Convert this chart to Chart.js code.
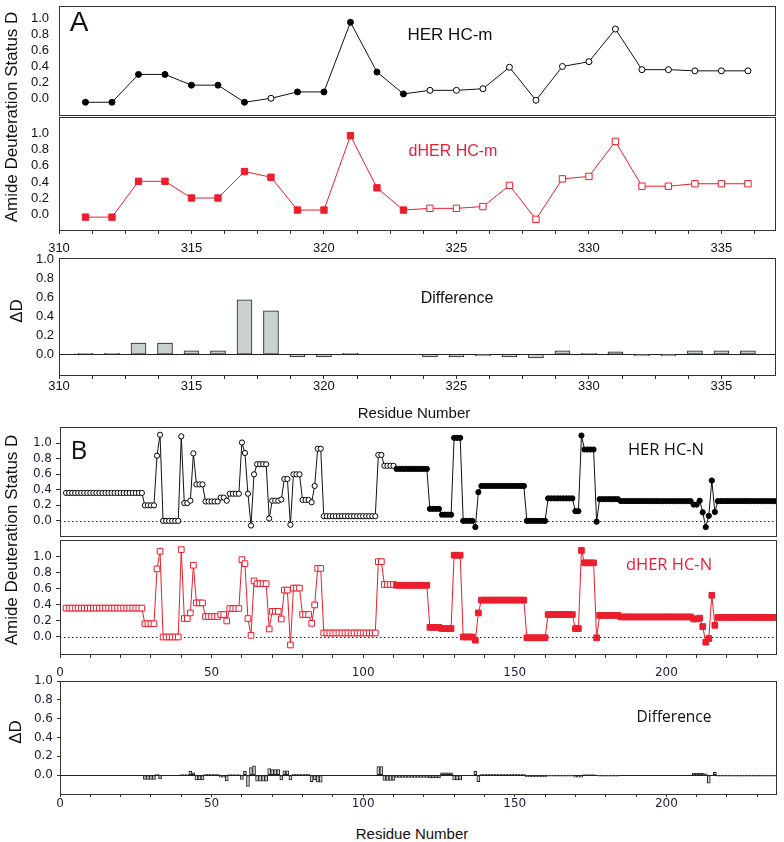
<!DOCTYPE html>
<html>
<head>
<meta charset="utf-8">
<script src="https://cdn.jsdelivr.net/npm/chart.js@4.4.1/dist/chart.umd.min.js"></script>
<style>
body{margin:0;background:#fff;width:784px;height:842px;position:relative;overflow:hidden;font-family:"Liberation Sans",Arial,sans-serif;color:#111}
canvas{position:absolute;left:0}
.t{position:absolute;white-space:nowrap;transform:translate(-50%,-50%);line-height:1}
.v{transform:translate(-50%,-50%) rotate(-90deg)}
.os{font-family:"Open Sans",sans-serif}
.red{color:#e8203a}
</style>
</head>
<body>
<canvas id="a1" width="784" height="120" style="top:0px"></canvas>
<canvas id="a2" width="784" height="152" style="top:110px"></canvas>
<canvas id="a3" width="784" height="150" style="top:250px"></canvas>
<canvas id="b1" width="784" height="121" style="top:420px"></canvas>
<canvas id="b2" width="784" height="157" style="top:533px"></canvas>
<canvas id="b3" width="784" height="148" style="top:672px"></canvas>

<div class="t" style="left:79px;top:22px;font-size:28px">A</div>
<div class="t" style="left:450px;top:34px;font-size:17px">HER HC-m</div>
<div class="t red" style="left:453px;top:151px;font-size:16px">dHER HC-m</div>
<div class="t" style="left:457px;top:298px;font-size:16px">Difference</div>
<div class="t" style="left:414px;top:412px;font-size:15px">Residue Number</div>
<div class="t v" style="left:11px;top:117px;font-size:17px">Amide Deuteration Status D</div>
<div class="t v" style="left:16px;top:311px;font-size:17px">ΔD</div>

<div class="t os" style="left:79px;top:449px;font-size:26px">B</div>
<div class="t os" style="left:666px;top:449px;font-size:16.5px">HER HC-N</div>
<div class="t os red" style="left:669px;top:564px;font-size:16.5px">dHER HC-N</div>
<div class="t os" style="left:674px;top:717px;font-size:15.5px">Difference</div>
<div class="t" style="left:412px;top:833px;font-size:15px">Residue Number</div>
<div class="t v" style="left:11px;top:540px;font-size:17px">Amide Deuteration Status D</div>
<div class="t v" style="left:15px;top:732px;font-size:17px">ΔD</div>

<script>
// panel A: residues 311-336
const aResidues = [311,312,313,314,315,316,317,318,319,320,321,322,323,324,325,326,327,328,329,330,331,332,333,334,335,336];
const aHER = [-0.05,-0.05,0.30,0.30,0.165,0.165,-0.05,0.0,0.08,0.08,0.955,0.33,0.055,0.10,0.10,0.12,0.39,-0.025,0.40,0.46,0.87,0.36,0.36,0.345,0.345,0.345];
const aDHER = [-0.03,-0.03,0.41,0.41,0.205,0.205,0.53,0.46,0.057,0.057,0.97,0.33,0.057,0.078,0.078,0.10,0.36,-0.057,0.44,0.47,0.90,0.35,0.35,0.38,0.38,0.38];
const aDiff = [0.01,0.01,0.117,0.117,0.035,0.035,0.576,0.46,-0.028,-0.028,0.01,null,null,-0.028,-0.028,-0.018,-0.028,-0.04,0.035,0.01,0.025,-0.018,-0.018,0.035,0.035,0.035];
const aYTicks = [0, 0.2, 0.4, 0.6, 0.8, 1.0];
const aXTicks = [310,311.25,312.5,313.75,315,316.25,317.5,318.75,320,321.25,322.5,323.75,325,326.25,327.5,328.75,330,331.25,332.5,333.75,335,336.25];
const aXLabels = [310,315,320,325,330,335];

// panel B: residues 2-236
const bFirstResidue = 2;
const bHER = [
  0.36,0.36,0.36,0.36,0.36,0.36,0.36,0.36,0.36,0.36,0.36,0.36,0.36,
  0.36,0.36,0.36,0.36,0.36,0.36,0.36,0.36,0.36,0.36,0.36,0.36,0.36,
  0.20,0.20,0.20,0.20,0.84,1.11,0.00,0.00,0.00,0.00,0.00,0.00,1.09,0.23,0.23,0.26,0.87,
  0.47,0.47,0.47,0.25,0.25,0.25,0.25,0.25,0.30,0.30,0.26,0.35,0.35,0.35,0.35,1.01,0.875,0.35,-0.06,0.60,0.73,0.73,0.73,0.73,0.03,
  0.26,0.26,0.26,0.275,0.54,0.54,-0.05,0.60,0.60,0.60,0.27,0.27,0.27,0.24,0.45,0.93,0.93,
  0.06,0.06,0.06,0.06,0.06,0.06,0.06,0.06,0.06,0.06,0.06,0.06,0.06,0.06,0.06,0.06,0.06,0.06,
  0.85,0.85,0.71,0.71,0.71,0.71,0.67,0.67,0.67,0.67,0.67,0.67,0.67,0.67,0.67,0.67,0.67,
  0.155,0.155,0.155,0.155,0.08,0.08,0.08,0.08,1.07,1.07,1.07,0.00,0.00,0.00,0.00,-0.08,0.37,
  0.45,0.45,0.45,0.45,0.45,0.45,0.45,0.45,0.45,0.45,0.45,0.45,0.45,0.45,0.45,
  0.00,0.00,0.00,0.00,0.00,0.00,0.00,
  0.29,0.29,0.29,0.29,0.29,0.29,0.29,0.29,0.29,0.125,0.125,1.10,0.92,0.92,0.92,0.92,-0.01,
  0.28,0.28,0.28,0.28,0.28,0.28,0.28,
  0.255,0.255,0.255,0.255,0.255,0.255,0.255,0.255,0.255,0.255,0.255,0.255,
  0.255,0.255,0.255,0.255,0.255,0.255,0.255,0.255,0.255,0.255,0.255,0.255,
  0.21,0.21,0.26,0.11,-0.08,0.065,0.52,0.115,
  0.255,0.255,0.255,0.255,0.255,0.255,0.255,0.255,0.255,0.255,
  0.255,0.255,0.255,0.255,0.255,0.255,0.255,0.255,0.255,0.255
];
const bDHER = [
  0.36,0.36,0.36,0.36,0.36,0.36,0.36,0.36,0.36,0.36,0.36,0.36,0.36,
  0.36,0.36,0.36,0.36,0.36,0.36,0.36,0.36,0.36,0.36,0.36,0.36,0.36,
  0.165,0.165,0.165,0.165,0.85,1.07,0.00,0.00,0.00,0.00,0.00,0.00,1.09,0.23,0.23,0.30,0.895,
  0.425,0.425,0.425,0.255,0.255,0.255,0.255,0.255,0.28,0.28,0.20,0.355,0.355,0.355,0.355,0.965,0.915,0.23,0.02,0.70,0.665,0.665,0.665,0.665,0.10,
  0.32,0.32,0.32,0.225,0.585,0.585,-0.10,0.61,0.61,0.61,0.28,0.28,0.28,0.17,0.40,0.855,0.855,
  0.05,0.05,0.05,0.05,0.05,0.05,0.05,0.05,0.05,0.05,0.05,0.05,0.05,0.05,0.05,0.05,0.05,0.05,
  0.94,0.94,0.655,0.655,0.655,0.655,0.645,0.645,0.645,0.645,0.645,0.645,0.645,0.645,0.645,0.645,0.645,
  0.12,0.12,0.12,0.12,0.105,0.105,0.105,0.105,1.02,1.02,1.02,0.00,0.00,0.00,0.00,-0.04,0.30,
  0.46,0.46,0.46,0.46,0.46,0.46,0.46,0.46,0.46,0.46,0.46,0.46,0.46,0.46,0.46,
  -0.01,-0.01,-0.01,-0.01,-0.01,-0.01,-0.01,
  0.28,0.28,0.28,0.28,0.28,0.28,0.28,0.28,0.28,0.105,0.105,1.08,0.925,0.925,0.925,0.925,-0.01,
  0.27,0.27,0.27,0.27,0.27,0.27,0.27,
  0.25,0.25,0.25,0.25,0.25,0.25,0.25,0.25,0.25,0.25,0.25,0.25,
  0.25,0.25,0.25,0.25,0.25,0.25,0.25,0.25,0.25,0.25,0.25,0.25,
  0.225,0.225,0.235,0.13,-0.065,-0.02,0.52,0.145,
  0.245,0.245,0.245,0.245,0.245,0.245,0.245,0.245,0.245,0.245,
  0.245,0.245,0.245,0.245,0.245,0.245,0.245,0.245,0.245,0.245
];
const bDiff = [
  null,null,null,null,null,null,null,null,null,null,null,null,null,
  null,null,null,null,null,null,null,null,null,null,null,null,null,
  -0.045,-0.045,-0.045,-0.045,0.01,-0.04,null,null,null,null,null,null,0.005,0.005,0.005,0.04,0.025,
  -0.05,-0.05,-0.05,0.01,0.01,0.01,0.01,0.01,-0.02,-0.02,-0.06,0.005,0.005,0.005,0.005,-0.045,0.04,-0.12,0.08,0.10,-0.065,-0.065,-0.065,-0.065,0.07,
  0.06,0.06,0.06,-0.05,0.045,0.045,-0.05,0.01,0.01,0.01,0.01,0.01,0.01,-0.07,-0.05,-0.075,-0.075,
  null,null,null,null,null,null,null,null,null,null,null,null,null,null,null,null,null,null,
  0.09,0.09,-0.055,-0.055,-0.055,-0.055,-0.025,-0.025,-0.025,-0.025,-0.025,-0.025,-0.025,-0.025,-0.025,-0.025,-0.025,
  -0.03,-0.03,-0.03,-0.03,0.025,0.025,0.025,0.025,-0.05,-0.05,-0.05,null,null,null,null,0.04,-0.07,
  0.01,0.01,0.01,0.01,0.01,0.01,0.01,0.01,0.01,0.01,0.01,0.01,0.01,0.01,0.01,
  -0.015,-0.015,-0.015,-0.015,-0.015,-0.015,-0.015,
  -0.01,-0.01,-0.01,-0.01,-0.01,-0.01,-0.01,-0.01,-0.01,-0.02,-0.02,-0.02,0.005,0.005,0.005,0.005,null,
  -0.01,-0.01,-0.01,-0.01,-0.01,-0.01,-0.01,
  null,null,null,null,null,null,null,null,null,null,null,null,
  null,null,null,null,null,null,null,null,null,null,null,null,
  0.02,0.02,0.02,0.02,0.015,-0.085,null,0.03,
  -0.01,-0.01,-0.01,-0.01,-0.01,-0.01,-0.01,-0.01,-0.01,-0.01,
  -0.01,-0.01,-0.01,-0.01,-0.01,-0.01,-0.01,-0.01,-0.01,-0.01
];
const bYTicks = [0, 0.2, 0.4, 0.6, 0.8, 1.0];
const bXTicks = [0,10,20,30,40,50,60,70,80,90,100,110,120,130,140,150,160,170,180,190,200,210,220,230];
const bXLabels = [0,50,100,150,200];

const bResidues = bHER.map((v, i) => bFirstResidue + i);
const red = 'rgb(235,30,45)';
const fontA = {family: 'Liberation Sans', size: 13};
const fontB = {family: 'DejaVu Sans', size: 12};

// frame around each plot + optional zero line
const boxPlugin = {
  id: 'box',
  beforeDatasetsDraw(chart, args, opts) {
    if (!opts.zero) return;
    const {ctx, chartArea: a} = chart;
    const py = Math.round(chart.scales.y.getPixelForValue(0)) + 0.5;
    ctx.save();
    ctx.strokeStyle = '#222';
    ctx.lineWidth = 1;
    if (opts.zero === 'dotted') ctx.setLineDash([1.5, 2.5]);
    ctx.beginPath();
    ctx.moveTo(a.left, py);
    ctx.lineTo(a.right, py);
    ctx.stroke();
    ctx.restore();
  },
  afterDraw(chart) {
    const {ctx, chartArea: a} = chart;
    ctx.save();
    ctx.strokeStyle = '#333';
    ctx.lineWidth = 1;
    ctx.strokeRect(Math.round(a.left) + 0.5, Math.round(a.top) + 0.5, Math.round(a.right - a.left) - 1, Math.round(a.bottom - a.top));
    ctx.restore();
  }
};
Chart.register(boxPlugin);

function pts(xs, ys) {
  return xs.map((x, i) => ({x: x, y: ys[i]}));
}

function yScale(min, max, ticks, o) {
  return {
    type: 'linear', min: min, max: max,
    afterBuildTicks: s => { s.ticks = ticks.map(v => ({value: v})); },
    afterFit: s => { s.width = o.width; s.paddingTop = 0; s.paddingBottom = 0; },
    grid: {display: o.tick > 0, drawOnChartArea: false, tickLength: o.tick, color: '#333'},
    border: {display: false},
    ticks: {font: o.font, color: o.color, padding: o.pad, callback: v => v.toFixed(1)}
  };
}

function xScale(min, max, ticks, labels, o) {
  return {
    type: 'linear', min: min, max: max, display: o.show, offset: false,
    afterBuildTicks: s => { s.ticks = ticks.map(v => ({value: v})); },
    afterFit: s => { s.height = o.height; s.paddingLeft = 0; s.paddingRight = 0; },
    grid: {display: true, offset: false, drawOnChartArea: false, tickLength: o.tick, color: '#333'},
    border: {display: false},
    ticks: {font: o.font, color: o.color, padding: o.pad, maxRotation: 0, autoSkip: false,
      callback: v => labels.includes(v) ? String(v) : ''}
  };
}

function options(x, y, pad, zero) {
  return {
    responsive: false, animation: false, events: [],
    layout: {padding: pad},
    plugins: {legend: {display: false}, tooltip: {enabled: false}, box: {zero: zero}},
    scales: {x: x, y: y}
  };
}

// ---- A top: HER HC-m
new Chart(document.getElementById('a1'), {
  type: 'line',
  data: {datasets: [{
    data: pts(aResidues, aHER), borderColor: '#111', borderWidth: 1, tension: 0,
    pointStyle: 'circle', pointRadius: 3, pointBorderWidth: 1, pointBorderColor: '#000',
    pointBackgroundColor: aResidues.map(r => (r <= 323 && r !== 318) ? '#000' : '#fff')
  }]},
  options: options(
    xScale(310, 337.06, aXTicks, aXLabels, {show: false, height: 0, tick: 0, font: fontA, color: '#111', pad: 0}),
    yScale(-0.21, 1.16, aYTicks, {width: 59, tick: 0, pad: 10, font: fontA, color: '#111'}),
    {top: 6, bottom: 3, left: 0, right: 8}, null)
});

// ---- A middle: dHER HC-m
new Chart(document.getElementById('a2'), {
  type: 'line',
  data: {datasets: [{
    data: pts(aResidues, aDHER), borderColor: red, borderWidth: 1, tension: 0,
    pointStyle: 'rect', pointRadius: 4.5, pointBorderWidth: 1, pointBorderColor: red,
    pointBackgroundColor: aResidues.map(r => r <= 323 ? red : '#fff')
  }]},
  options: options(
    xScale(310, 337.06, aXTicks, aXLabels, {show: true, height: 32, tick: 4, font: fontA, color: '#111', pad: 7}),
    yScale(-0.188, 1.2, aYTicks, {width: 59, tick: 0, pad: 10, font: fontA, color: '#111'}),
    {top: 7, bottom: 0, left: 0, right: 8}, null)
});

// ---- A bottom: difference
new Chart(document.getElementById('a3'), {
  type: 'bar',
  data: {datasets: [{
    data: pts(aResidues, aDiff), backgroundColor: 'rgb(200,208,208)', borderColor: '#222',
    borderWidth: 1, borderSkipped: false, barThickness: 15
  }]},
  options: options(
    xScale(310, 337.06, aXTicks, aXLabels, {show: true, height: 25, tick: 4, font: fontA, color: '#111', pad: 0}),
    yScale(-0.22, 1.02, aYTicks, {width: 59, tick: 0, pad: 5, font: fontA, color: '#111'}),
    {top: 8, bottom: 0, left: 0, right: 8}, 'solid')
});

// ---- B top: HER HC-N
new Chart(document.getElementById('b1'), {
  type: 'line',
  data: {datasets: [{
    data: pts(bResidues, bHER), borderColor: '#111', borderWidth: 1, tension: 0,
    pointStyle: 'circle', pointRadius: 2.6, pointBorderWidth: 1, pointBorderColor: '#000',
    pointBackgroundColor: bResidues.map(r => r >= 111 ? '#000' : '#fff')
  }]},
  options: options(
    xScale(0, 236.5, bXTicks, bXLabels, {show: false, height: 0, tick: 0, font: fontB, color: '#1c1c3c', pad: 0}),
    yScale(-0.195, 1.21, bYTicks, {width: 60, tick: 4, pad: 4, font: fontB, color: '#1c1c3c'}),
    {top: 7, bottom: 1, left: 0, right: 7}, 'dotted')
});

// ---- B middle: dHER HC-N
new Chart(document.getElementById('b2'), {
  type: 'line',
  data: {datasets: [{
    data: pts(bResidues, bDHER), borderColor: red, borderWidth: 1, tension: 0,
    pointStyle: 'rect', pointRadius: 4, pointBorderWidth: 1, pointBorderColor: red,
    pointBackgroundColor: bResidues.map(r => r >= 111 ? red : '#fff')
  }]},
  options: options(
    xScale(0, 236.5, bXTicks, bXLabels, {show: true, height: 36, tick: 4, font: fontB, color: '#1c1c3c', pad: 8}),
    yScale(-0.2125, 1.21, bYTicks, {width: 60, tick: 4, pad: 4, font: fontB, color: '#1c1c3c'}),
    {top: 7, bottom: 0, left: 0, right: 7}, 'dotted')
});

// ---- B bottom: difference
new Chart(document.getElementById('b3'), {
  type: 'bar',
  data: {datasets: [{
    data: pts(bResidues, bDiff), backgroundColor: 'rgb(200,208,208)', borderColor: '#222',
    borderWidth: 1, borderSkipped: false, barThickness: 3
  }]},
  options: options(
    xScale(0, 236.5, bXTicks, bXLabels, {show: true, height: 26, tick: 3, font: fontB, color: '#1c1c3c', pad: 0}),
    yScale(-0.2, 1.0, bYTicks, {width: 60, tick: 3, pad: 4, font: fontB, color: '#1c1c3c'}),
    {top: 9, bottom: 0, left: 0, right: 7}, 'solid')
});
</script>
</body>
</html>
